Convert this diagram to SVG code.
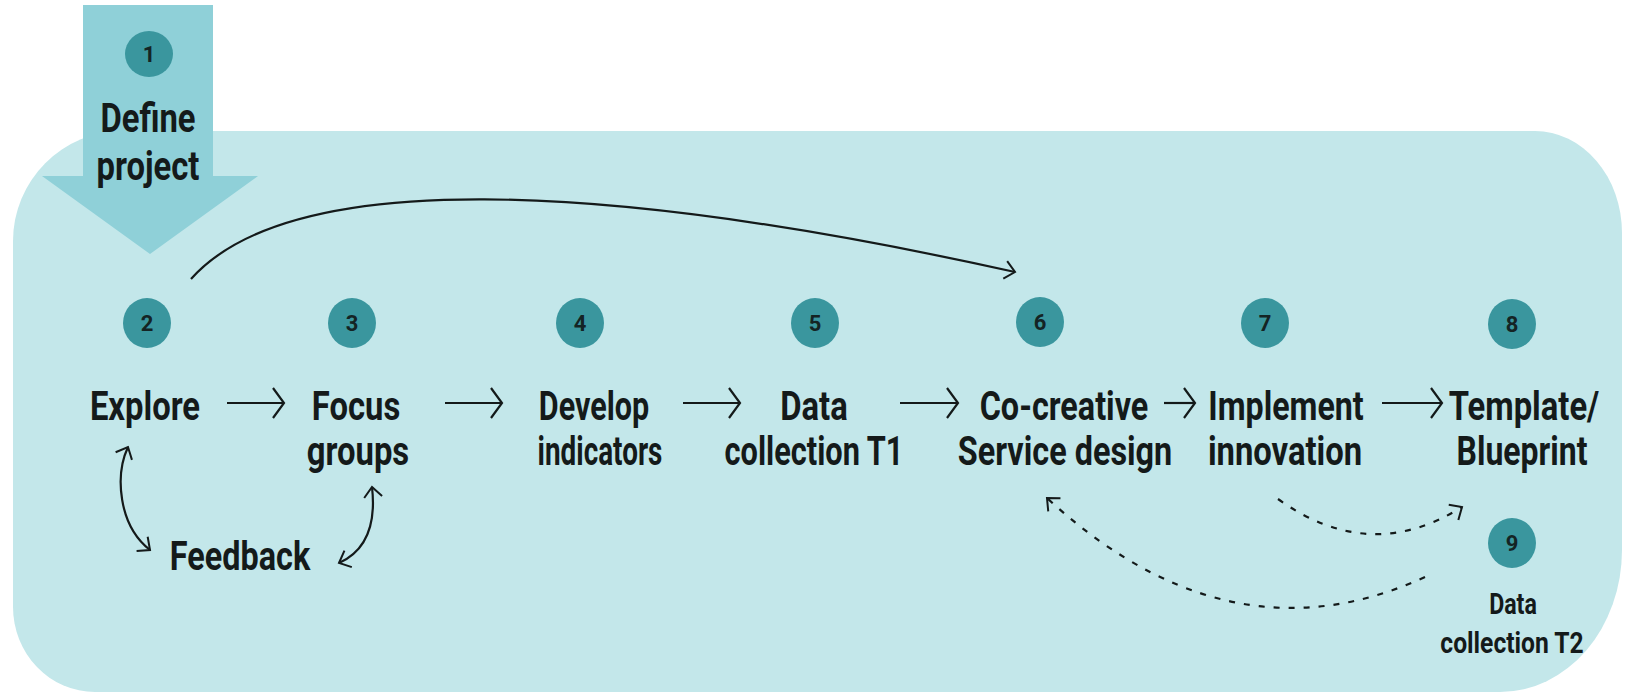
<svg xmlns="http://www.w3.org/2000/svg" width="1627" height="693" viewBox="0 0 1627 693">
<style>
.lbl{font-family:Roboto,"Liberation Sans",sans-serif;font-weight:700;font-size:41px;fill:#141a1a;text-anchor:middle}
.sm{font-size:29px}
.num{font-family:Roboto,"Liberation Sans",sans-serif;font-weight:700;font-size:22px;fill:#142424;text-anchor:middle}
.dot{fill:#3a969e}
.ln{fill:none;stroke:#141a1a;stroke-width:2.2}
.dash{stroke-dasharray:6 9}
</style>
<defs>
<marker id="chev" markerUnits="userSpaceOnUse" markerWidth="30" markerHeight="40" refX="0" refY="0" viewBox="-15 -20 30 40" orient="auto-start-reverse">
<path d="M-11,-15 L0,0 L-11,15" fill="none" stroke="#141a1a" stroke-width="2.2"/>
</marker>
<marker id="chs" markerUnits="userSpaceOnUse" markerWidth="30" markerHeight="30" refX="0" refY="0" viewBox="-15 -15 30 30" orient="auto-start-reverse">
<path d="M-10,-9 L0,0 L-10,9" fill="none" stroke="#141a1a" stroke-width="2"/>
</marker>
</defs>
<path id="panel" d="M123,131 H1535 A87,102 0 0 1 1622,233 V550 A122,142 0 0 1 1500,692 H95 A82,85 0 0 1 13,607 V241 A110,110 0 0 1 123,131 Z" fill="#c3e7ea"/>
<g id="n1">
<polygon points="83,5 213,5 213,176 258,176 150,254 42,176 83,176" fill="#8fd0d8"/>
<ellipse class="dot" cx="149" cy="54" rx="24" ry="23"/>
<text class="num" x="149" y="62">1</text>
<text class="lbl" transform="translate(148,132) scale(0.8,1)">Define</text>
<text class="lbl" transform="translate(148,180) scale(0.8,1)">project</text>
</g>
<g id="n2">
<ellipse class="dot" cx="147" cy="323" rx="24" ry="25"/>
<text class="num" x="147" y="331">2</text>
<text class="lbl" transform="translate(145,420) scale(0.8,1)">Explore</text>
</g>
<g id="n3">
<ellipse class="dot" cx="352" cy="323" rx="24" ry="25"/>
<text class="num" x="352" y="331">3</text>
<text class="lbl" transform="translate(356,420) scale(0.8,1)">Focus</text>
<text class="lbl" transform="translate(358,465) scale(0.8,1)">groups</text>
</g>
<g id="n4">
<ellipse class="dot" cx="580" cy="323" rx="24" ry="25"/>
<text class="num" x="580" y="331">4</text>
<text class="lbl" transform="translate(594,420) scale(0.745,1)">Develop</text>
<text class="lbl" transform="translate(600,465) scale(0.68,1)">indicators</text>
</g>
<g id="n5">
<ellipse class="dot" cx="815" cy="323" rx="24" ry="25"/>
<text class="num" x="815" y="331">5</text>
<text class="lbl" transform="translate(814,420) scale(0.8,1)">Data</text>
<text class="lbl" transform="translate(814,465) scale(0.75,1)">collection T1</text>
</g>
<g id="n6">
<ellipse class="dot" cx="1040" cy="322" rx="24" ry="25"/>
<text class="num" x="1040" y="330">6</text>
<text class="lbl" transform="translate(1064,420) scale(0.79,1)">Co-creative</text>
<text class="lbl" transform="translate(1065,465) scale(0.79,1)">Service design</text>
</g>
<g id="n7">
<ellipse class="dot" cx="1265" cy="323" rx="24" ry="25"/>
<text class="num" x="1265" y="331">7</text>
<text class="lbl" transform="translate(1286,420) scale(0.785,1)">Implement</text>
<text class="lbl" transform="translate(1285,465) scale(0.8,1)">innovation</text>
</g>
<g id="n8">
<ellipse class="dot" cx="1512" cy="324" rx="24" ry="25"/>
<text class="num" x="1512" y="332">8</text>
<text class="lbl" transform="translate(1524,420) scale(0.8,1)">Template/</text>
<text class="lbl" transform="translate(1522,465) scale(0.78,1)">Blueprint</text>
</g>
<g id="n9">
<ellipse class="dot" cx="1512" cy="543" rx="24" ry="25"/>
<text class="num" x="1512" y="551">9</text>
<text class="lbl sm" transform="translate(1513,614) scale(0.8,1)">Data</text>
<text class="lbl sm" transform="translate(1512,653) scale(0.85,1)">collection T2</text>
</g>
<g id="nfb">
<text class="lbl" transform="translate(240,570) scale(0.79,1)">Feedback</text>
</g>
<g id="connectors">
<path class="ln" d="M227,403 H284" marker-end="url(#chev)"/>
<path class="ln" d="M445,403 H502" marker-end="url(#chev)"/>
<path class="ln" d="M683,403 H740" marker-end="url(#chev)"/>
<path class="ln" d="M900,403 H958" marker-end="url(#chev)"/>
<path class="ln" d="M1164,403 H1195" marker-end="url(#chev)"/>
<path class="ln" d="M1382,403 H1442" marker-end="url(#chev)"/>
<path class="ln" d="M191,279 C290,168 600,180 1015,272" marker-end="url(#chs)"/>
<path class="ln" d="M128,447 C115,475 118,525 150,550" marker-start="url(#chs)" marker-end="url(#chs)"/>
<path class="ln" d="M372,487 C376,522 368,550 339,563" marker-start="url(#chs)" marker-end="url(#chs)"/>
<path class="ln dash" d="M1278,499 Q1370,565 1462,507" marker-end="url(#chs)"/>
<path class="ln dash" d="M1425,577 C1320,625 1190,630 1047,498" marker-end="url(#chs)"/>
</g>
</svg>
